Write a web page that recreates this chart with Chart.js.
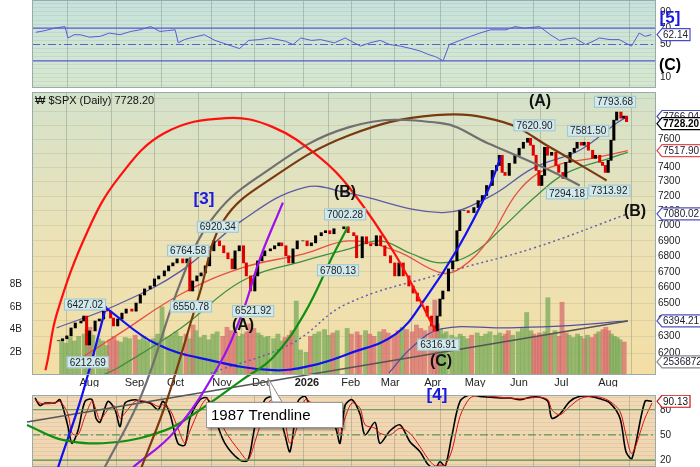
<!DOCTYPE html>
<html><head><meta charset="utf-8">
<script src="https://cdn.jsdelivr.net/npm/chart.js@4/dist/chart.umd.min.js"></script>
<style>
html,body{margin:0;padding:0;background:#fff;width:700px;height:467px;overflow:hidden}
canvas{position:absolute;left:0}
#top{top:0;z-index:1}#bot{top:395px;z-index:1}#main{top:0;z-index:2;pointer-events:none}
</style></head><body>
<canvas id="top" width="700" height="90"></canvas>
<canvas id="bot" width="700" height="72"></canvas>
<canvas id="main" width="700" height="467"></canvas>
<script>
// ---- data (x = calendar day counted from 2025-07-01) ----
const days=[10,13,16,19,22,26,28,30,32,36,39,42,44,47,49,52,55,58,62,65,68,71,75,78,81,85,88,91,94,98,101,103,105,108,111,114,117,120,124,127,130,133,135,138,141,143,146,149,151,154,156,160,163,166,168,171,173,176,179,183,186,189,192,196,199,202,205,212,215,219,221,225,228,231,235,238,241,245,248,251,254,258,261,264,267,271,274,276,278,280,282,286,289,292,294,297,300,304,307,310,313,317,320,322,324,326,329,333,336,339,342,344,346,348,350,352,354,356,359,362,364,367,369,372,375,377,380,382,385,388,390,393,395,397,399,401,403,405,408,410,412];
const closes=[6275,6287,6304,6352,6382,6394,6424,6250,6334,6394,6406,6467,6454,6412,6364,6406,6442,6467,6454,6504,6554,6592,6610,6655,6674,6706,6738,6757,6783,6757,6783,6579,6642,6674,6693,6738,6835,6900,6868,6822,6783,6719,6835,6868,6757,6674,6579,6674,6770,6803,6835,6848,6868,6887,6868,6803,6757,6848,6900,6900,6868,6887,6934,6954,6967,6947,6980,6993,6954,6934,6790,6927,6881,6868,6934,6868,6803,6757,6674,6757,6674,6610,6566,6516,6485,6424,6364,6334,6424,6529,6579,6719,6770,6967,7101,7101,7088,7122,7169,7204,7273,7378,7413,7485,7364,7343,7428,7485,7535,7578,7607,7557,7485,7378,7273,7343,7542,7485,7506,7413,7364,7322,7435,7506,7535,7578,7557,7578,7521,7463,7485,7435,7413,7364,7449,7593,7739,7799,7754,7769,7728.20];
const volumes=[3.1,2.8,3.3,3.0,3.4,3.6,4.0,4.2,3.5,3.2,3.0,2.6,3.1,3.4,3.0,2.9,3.3,3.2,3.5,3.1,3.4,3.0,3.2,3.6,6.0,3.3,3.5,3.8,3.4,3.6,3.2,4.4,3.9,3.3,3.5,3.1,3.6,3.8,3.4,4.2,3.9,3.7,3.4,3.6,3.8,4.5,4.1,3.7,3.5,3.3,3.4,3.2,3.6,3.0,3.3,3.5,3.9,6.5,2.2,2.0,3.4,3.6,3.8,4.0,3.5,3.7,3.9,4.1,3.6,3.8,3.5,3.9,3.6,3.4,3.8,4.0,3.7,3.5,3.9,4.2,4.0,3.8,4.4,4.1,3.9,4.3,6.6,4.5,4.0,3.6,3.8,3.5,3.3,3.6,3.4,3.2,3.5,3.7,3.4,3.6,3.8,3.5,3.7,3.4,3.6,3.9,3.5,3.8,4.1,5.5,3.9,3.6,3.4,3.7,3.5,3.8,6.8,3.6,3.9,3.4,6.4,3.7,3.5,3.3,3.6,3.4,3.2,3.5,3.3,3.6,3.8,4.0,4.2,3.9,3.6,3.4,3.3,3.1,2.9];
// moving averages [day, value]
const maUpper=[[8,6352],[52,6498],[96,6706],[139,7034],[183,7259],[215,7218],[280,7088],[313,7190],[346,7399],[378,7521],[404,7717],[412,7766]];
const maRed=[[15,6119],[52,6316],[96,6560],[139,6725],[183,6816],[215,6900],[248,6835],[280,6693],[294,6725],[313,6900],[335,7238],[357,7399],[390,7470],[412,7517.9]];
const maGreen=[[40,6070],[52,6119],[96,6352],[139,6642],[183,6770],[215,6848],[237,6900],[259,6816],[280,6757],[302,6816],[324,6993],[346,7190],[368,7357],[401,7470],[412,7506]];
const maDotted=[[117,6085],[174,6258],[213,6498],[280,6687],[346,6855],[412,7080.02]];
const maLow=[[243,6085],[259,6234],[280,6346],[324,6352],[367,6364],[412,6394.21]];
const trend1987=[[-13,5809],[412,6394]];
const arcRed=[[-13,5764],[0,6102],[8,6436],[30,6967],[52,7329],[84,7643],[128,7754],[161,7688],[194,7470],[215,7259],[248,6803],[276,6334]];
const arcGrey=[[42,5564],[68,5960],[96,6642],[117,7034],[150,7329],[215,7688],[280,7717],[313,7571],[357,7378],[378,7273]];
const arcBrown=[[68,5564],[86,5931],[109,6560],[126,7034],[161,7329],[215,7629],[276,7776],[324,7725],[357,7542],[397,7308]];
const arcPurple=[[62,5564],[91,5753],[122,6119],[139,6436],[152,6790],[168,7156]];
const arcGreen=[[-13,5792],[13,5709],[49,5698],[85,5764],[105,5853],[139,6045],[161,6176],[183,6436],[204,6816],[214,6993]];
const arcBlue1=[[9,5564],[26,5960],[43,6485]];
const arcBlue2=[[43,6473],[78,6258],[117,6159],[161,6102],[189,6130],[215,6199],[248,6316],[269,6535],[292,6855],[313,7238],[322,7470]];
const rsiDays=[10,16,22,29,31,35,39,45,52,58,65,72,78,85,91,96,101,103,107,111,120,127,135,143,149,156,163,173,178,183,190,196,205,212,222,228,235,241,248,255,261,266,271,276,280,287,294,300,307,317,323,329,339,346,352,357,362,369,374,378,385,391,399,404,408,412];
const rsiVals=[65,67,70,72,58,62,62,59,60,64,62,66,68,72,66,67,68,52,56,58,62,55,50,45,55,56,58,54,50,58,55,56,52,58,48,52,55,50,48,45,42,38,35,30,50,55,60,64,68,68,72,70,72,62,55,57,58,50,54,58,56,56,48,64,60,62.14];
const stDays=[9.5,12.7,16,22.5,25.8,31,33.6,37.5,42.1,46.7,49.3,51.9,57.1,61.7,65,68.2,74.8,78,84.5,89.8,93,97.6,102.8,107.4,110.7,117.2,121.8,127,133.5,143.3,148.5,153.1,159.6,164.2,168.1,172.7,176,181.2,185.8,190.3,195.6,205.4,208.6,211.9,216.5,221.7,225,231.5,234.7,241.3,247.8,254.3,260.9,266,270.7,273.9,277.2,281.8,287,293.5,300,306.6,313.1,319.6,326.2,332.7,339.2,344.4,347,352.3,358.8,365.3,371.9,378.4,385,391.5,395.4,399.3,407.8,412.4];
const stFast=[94,85,88,88,92,60,40,55,90,92,70,65,90,80,60,88,92,90,88,80,90,75,40,38,70,92,94,70,40,20,20,60,92,95,80,50,30,90,96,80,80,60,40,85,92,75,50,65,40,55,62,42,30,15,10,18,12,50,90,98,96,95,94,94,92,95,95,90,70,75,90,96,96,93,88,70,30,22,90,90.13];
const stSlow=[92,88,87,88,90,75,52,50,72,90,80,68,80,84,70,76,90,91,89,84,86,80,58,40,55,82,93,82,55,30,20,42,78,93,88,65,40,62,92,88,80,68,50,70,88,82,62,58,52,50,58,52,36,22,13,14,14,32,72,94,97,96,95,94,93,94,95,92,80,74,84,93,96,95,90,78,50,28,70,88];
const monthDays=[31,63,92,125,153,185,216,244,274,304,335,365,398];
const monthLabels=['Aug','Sep','Oct','Nov','Dec','2026','Feb','Mar','Apr','May','Jun','Jul','Aug'];
const priceTicks=[6200,6300,6400,6500,6600,6700,6800,6900,7000,7100,7200,7300,7400,7500,7600,7700,7800,7900];
const rsiTickLabels=[10,50,70,90];
const stTickLabels=[20,50,80];
const peaks=[[28,6427.02,'6427.02',-1],[30,6212.69,'6212.69',1],[101,6764.58,'6764.58',-1],[103,6550.78,'6550.78',1],[122,6920.34,'6920.34',-1],[147,6521.92,'6521.92',1],[212,7002.28,'7002.28',-1],[207,6780.13,'6780.13',1],[278,6316.91,'6316.91',1],[346,7620.90,'7620.90',-1],[384,7581.50,'7581.50',-1],[369,7294.18,'7294.18',1],[399,7313.92,'7313.92',1],[403,7793.68,'7793.68',-1]];

const XMIN=7.5,XMAX=415;
const FONT='"Liberation Sans", Arial, sans-serif';
Chart.defaults.font.family=FONT;Chart.defaults.font.size=10;Chart.defaults.color='#222';
Chart.defaults.animation=false;
const pts=a=>a.map(p=>({x:p[0],y:p[1]}));
const zip=(xs,ys)=>xs.map((x,i)=>({x,y:ys[i]}));
const monthTicks=s=>{s.ticks=monthDays.map(v=>({value:v}));};
const vgrid={color:'rgba(110,120,120,0.35)',drawTicks:false};

function bgPlugin(stops){return{id:'bg',beforeDraw(c){const a=c.chartArea,x=c.ctx;const g=x.createLinearGradient(0,a.top,0,a.bottom);stops.forEach(s=>g.addColorStop(s[0],s[1]));x.save();x.fillStyle=g;x.fillRect(a.left,a.top,a.right-a.left,a.bottom-a.top);x.restore();},
 afterDraw(c){const a=c.chartArea,x=c.ctx;x.save();x.strokeStyle='#9aa';x.lineWidth=1;x.strokeRect(a.left+.5,a.top+.5,a.right-a.left-1,a.bottom-a.top-1);x.restore();}};}
function box(ctx,txt,xc,yc,border,fill,color,bold){ctx.save();ctx.font=(bold?'bold ':'')+'10px '+FONT;const w=ctx.measureText(txt).width+6,h=12;let x0=xc-w/2;ctx.fillStyle=fill;ctx.fillRect(x0,yc-h/2,w,h);ctx.strokeStyle=border;ctx.lineWidth=1;ctx.strokeRect(x0+.5,yc-h/2+.5,w-1,h-1);ctx.fillStyle=color;ctx.textBaseline='middle';ctx.textAlign='left';ctx.fillText(txt,x0+3,yc+.5);ctx.restore();}
function tag(ctx,txt,x,y,border,color,bold){ctx.save();ctx.font=(bold?'bold ':'')+'10px '+FONT;const w=ctx.measureText(txt).width+8;ctx.beginPath();ctx.moveTo(x,y);ctx.lineTo(x+5,y-6);ctx.lineTo(x+w,y-6);ctx.lineTo(x+w,y+6);ctx.lineTo(x+5,y+6);ctx.closePath();ctx.fillStyle='#fff';ctx.fill();ctx.strokeStyle=border;ctx.lineWidth=1.2;ctx.stroke();ctx.fillStyle=color;ctx.textBaseline='middle';ctx.fillText(txt,x+6,y+.5);ctx.restore();}
function txt(ctx,t,x,y,font,color){ctx.save();ctx.font=font;ctx.fillStyle=color;ctx.textAlign='center';ctx.textBaseline='middle';ctx.fillText(t,x,y);ctx.restore();}
function rightTicks(c,vals){const x=c.ctx,y=c.scales.y;x.save();x.font='10px '+FONT;x.fillStyle='#222';x.textBaseline='middle';vals.forEach(v=>x.fillText(String(v),c.chartArea.right+4,y.getPixelForValue(v)));x.restore();}
const hline=(v,color,dash,w)=>({type:'line',data:[{x:XMIN,y:v},{x:XMAX,y:v}],borderColor:color,borderWidth:w||1.2,borderDash:dash||[],pointRadius:0});
const hiddenY=(min,max,step,gridColor)=>({position:'right',min,max,afterFit:s=>{s.width=44},afterBuildTicks:s=>{const t=[];for(let v=Math.ceil(min/step)*step;v<=max;v+=step)t.push({value:v});s.ticks=t;},
  ticks:{display:false},grid:{color:gridColor,drawTicks:false},border:{display:false}});
const panelOpts=(ycfg)=>({responsive:false,devicePixelRatio:1,layout:{padding:0},plugins:{legend:{display:false},tooltip:{enabled:false}},
  scales:{x:{type:'linear',min:XMIN,max:XMAX,afterBuildTicks:monthTicks,afterFit:s=>{s.height=0},ticks:{display:false},grid:vgrid,border:{display:false}},y:ycfg}});

// ---- top RSI panel ----
const topOpts=panelOpts(hiddenY(-3.4,104.6,5,'rgba(100,130,130,0.12)'));topOpts.layout={padding:{left:32,top:0,bottom:2}};
new Chart(document.getElementById('top'),{type:'line',
 data:{datasets:[hline(70,'#5b5bd0'),hline(30,'#5b5bd0'),hline(50,'#6060c0',[8,3,2,3]),
  {data:zip(rsiDays,rsiVals),borderColor:'#5a5ad6',borderWidth:1,pointRadius:0,tension:0}]},
 options:topOpts,
 plugins:[bgPlugin([[0,'#c6e2dc'],[1,'#d8e8cf']]),{id:'tl',afterDraw(c){const x=c.ctx,y=c.scales.y;rightTicks(c,rsiTickLabels);tag(x,'62.14',657,y.getPixelForValue(62.14),'#4a4ad0','#223',false);
  txt(x,'[5]',670,18,'bold 17px '+FONT,'#1a1ae0');txt(x,'(C)',670,66,'bold 16px '+FONT,'#000');}}]});

// ---- bottom stochastic panel ----
const botOpts=panelOpts(hiddenY(11.8,97.6,5,'rgba(150,110,80,0.12)'));botOpts.layout={padding:{left:32,top:0,bottom:0}};
new Chart(document.getElementById('bot'),{type:'line',
 data:{datasets:[hline(80,'#4f8f4f'),hline(20,'#4f8f4f'),hline(50,'#5a965a',[8,3,2,3]),
  {data:zip(stDays,stSlow),borderColor:'#e01010',borderWidth:1,pointRadius:0,tension:0.3},
  {data:zip(stDays,stFast),borderColor:'#000',borderWidth:1.6,pointRadius:0,tension:0.3}]},
 options:botOpts,
 plugins:[bgPlugin([[0,'#f2d9b6'],[1,'#efd6b0']]),{id:'bl',afterDraw(c){rightTicks(c,stTickLabels);tag(c.ctx,'90.13',657,c.scales.y.getPixelForValue(90.13),'#d01010','#111',false);}}]});

// ---- main price panel ----
const candle=days.map((d,i)=>({x:d,y:[closes[Math.max(0,i-1)],closes[i]]}));
const candleCol=closes.map((c,i)=>i>0&&c<closes[i-1]?'#e00000':'#000');
const volCol=closes.map((c,i)=>i>0&&c<closes[i-1]?'rgba(214,110,110,0.75)':'rgba(120,170,90,0.75)');
const ln=(a,color,w,extra)=>Object.assign({type:'line',data:pts(a),borderColor:color,borderWidth:w,pointRadius:0,tension:0.4},extra||{});
const arc=(a,color)=>ln(a,color,2.2,{clip:false,order:0});
new Chart(document.getElementById('main'),{type:'bar',
 data:{datasets:[
  arc(arcRed,'#ff1010'),arc(arcGrey,'#707070'),arc(arcBrown,'#7a3a10'),arc(arcPurple,'#9a10f0'),arc(arcGreen,'#109010'),arc(arcBlue1,'#1010f0'),arc(arcBlue2,'#1010f0'),
  ln(trend1987,'#555',1.6,{clip:false,order:0,tension:0}),
  {type:'bar',data:candle,backgroundColor:candleCol,barThickness:2.4,order:1,yAxisID:'y'},
  ln(maUpper,'#5a5aa8',1.3,{order:2}),ln(maRed,'#e85040',1.3,{order:2}),ln(maGreen,'#3f8f3f',1.3,{order:2}),
  ln(maDotted,'#6060b0',1.5,{order:2,borderDash:[2,3]}),ln(maLow,'#5050a8',1.3,{order:2}),
  {type:'bar',data:zip(days,volumes),backgroundColor:volCol,barThickness:4.2,order:10,yAxisID:'yv'}]},
 options:{responsive:false,devicePixelRatio:1,layout:{padding:{left:0,top:92,bottom:80,right:0}},plugins:{legend:{display:false},tooltip:{enabled:false}},
  scales:{x:{type:'linear',min:XMIN,max:XMAX,afterBuildTicks:monthTicks,afterFit:s=>{s.height=12},
    ticks:{padding:1,font:c=>({size:11,weight:c.tick&&c.tick.value===185?'bold':'normal'}),callback:v=>monthLabels[monthDays.indexOf(v)]||''},grid:vgrid,border:{display:false}},
   y:{type:'logarithmic',position:'right',min:6074,max:7949,afterFit:s=>{s.width=44},afterBuildTicks:s=>{s.ticks=priceTicks.map(v=>({value:v}));},
    ticks:{padding:2,callback:v=>v<=7600?String(v):''},grid:{color:'rgba(140,140,100,0.18)',drawTicks:false},border:{display:false}},
   yv:{type:'linear',position:'left',min:0,max:24.9,afterFit:s=>{s.width=32},afterBuildTicks:s=>{s.ticks=[2,4,6,8].map(v=>({value:v}));},
    ticks:{padding:2,callback:v=>v+'B'},grid:{display:false},border:{display:false}}}},
 plugins:[bgPlugin([[0,'#d4e2cb'],[0.55,'#ede2b6'],[1,'#f3dea4']]),{id:'ml',afterDraw(c){
  const x=c.ctx,X=c.scales.x,Y=c.scales.y;
  peaks.forEach(p=>box(x,p[2],X.getPixelForValue(p[0]),Y.getPixelForValue(p[1])+p[3]*11,'#9cc4c8','#d2eaee','#222',false));
  txt(x,'(A)',540,102,'bold 16px '+FONT,'#111');txt(x,'(B)',345,193,'bold 16px '+FONT,'#111');
  txt(x,'(A)',243,326,'bold 16px '+FONT,'#111');txt(x,'(C)',441,362,'bold 16px '+FONT,'#111');
  txt(x,'(B)',635,212,'bold 16px '+FONT,'#111');txt(x,'[3]',204,199,'bold 17px '+FONT,'#1a1ae0');txt(x,'[4]',437,395,'bold 17px '+FONT,'#1a1ae0');
  x.save();x.font='11px '+FONT;x.fillStyle='#111';x.textBaseline='middle';x.fillText('\u20A9 $SPX (Daily) 7728.20',35,101);x.restore();
  tag(x,'7766.04',657,Y.getPixelForValue(7766),'#5050c0','#223',false);
  tag(x,'7728.20',657,Y.getPixelForValue(7728.2)+2,'#000','#000',true);
  tag(x,'7517.90',657,Y.getPixelForValue(7517.9),'#e05050','#223',false);
  tag(x,'7080.02',657,Y.getPixelForValue(7080.02),'#5050c0','#223',false);
  tag(x,'6394.21',657,Y.getPixelForValue(6394.21),'#5050c0','#223',false);
  tag(x,'2536872',657,Y.getPixelForValue(6150),'#888','#223',false);
  x.save();x.strokeStyle='#888';x.lineWidth=1;x.beginPath();x.moveTo(268,378);x.lineTo(272,402);x.lineTo(282,402);x.closePath();x.fillStyle='#fff';x.fill();x.stroke();
  x.shadowColor='rgba(0,0,0,0.35)';x.shadowOffsetX=2;x.shadowOffsetY=2;x.shadowBlur=2;x.fillStyle='#fff';x.fillRect(206,402,137,26);x.shadowColor='transparent';
  x.strokeStyle='#999';x.strokeRect(206.5,402.5,136,25);x.font='15px '+FONT;x.fillStyle='#000';x.textBaseline='middle';x.fillText('1987 Trendline',211,416);x.restore();
 }}]});
</script></body></html>
